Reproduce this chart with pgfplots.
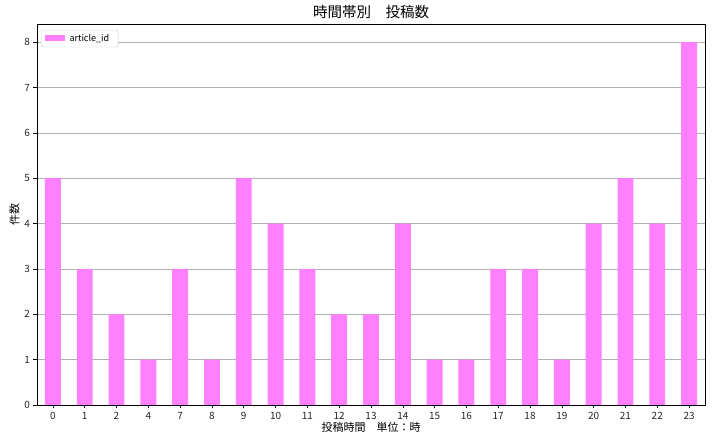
\documentclass[border=0pt]{standalone}
\usepackage{fontspec}
\setmainfont{Noto Sans CJK JP}
\usepackage{pgfplots}
\pgfplotsset{compat=1.18}
\definecolor{barpink}{HTML}{FF80FF}
\definecolor{gridgray}{HTML}{B0B0B0}
\begin{document}
\begin{tikzpicture}
\begin{axis}[
  scale only axis,
  width=668pt, height=381pt,
  ybar, bar width=0.5,
  xmin=-0.5, xmax=20.5,
  ymin=0, ymax=8.4,
  xtick=data,
  xticklabels={0,1,2,4,7,8,9,10,11,12,13,14,15,16,17,18,19,20,21,22,23},
  ytick={0,1,2,3,4,5,6,7,8},
  ymajorgrids, major grid style={gridgray, line width=0.6pt},
  tick align=outside, tick pos=left,
  major tick length=3.5pt,
  tick style={black, line width=0.6pt},
  axis line style={black, line width=0.8pt},
  /pgf/number format/assume math mode=true,
  ticklabel style={font=\fontsize{10}{12}\selectfont, text=black!85},
  title={時間帯別　投稿数},
  title style={font=\fontsize{14.5}{16}\selectfont, yshift=-4pt},
  xlabel={投稿時間　単位：時},
  ylabel={件数},
  label style={font=\fontsize{11}{12}\selectfont},
  xlabel style={yshift=4pt},
  ylabel style={yshift=-2pt},
  legend style={font=\fontsize{9}{10}\selectfont, draw=black!20, rounded corners=2pt, inner xsep=4pt, inner ysep=2pt, at={(0.006,0.984)}, anchor=north west, nodes={inner xsep=5pt}},
  legend image code/.code={\fill[barpink, sharp corners] (0cm,-0.09cm) rectangle (0.68cm,0.13cm);},
]
\addplot[fill=barpink, draw=none] coordinates {
(0,5) (1,3) (2,2) (3,1) (4,3) (5,1) (6,5) (7,4) (8,3) (9,2) (10,2) (11,4) (12,1) (13,1) (14,3) (15,3) (16,1) (17,4) (18,5) (19,4) (20,8)
};
\addlegendentry{article\_id}
\end{axis}
\pgfresetboundingbox
\useasboundingbox ([xshift=-37pt,yshift=-38pt]current axis.south west) rectangle ([xshift=10pt,yshift=24pt]current axis.north east);
\end{tikzpicture}
\end{document}
